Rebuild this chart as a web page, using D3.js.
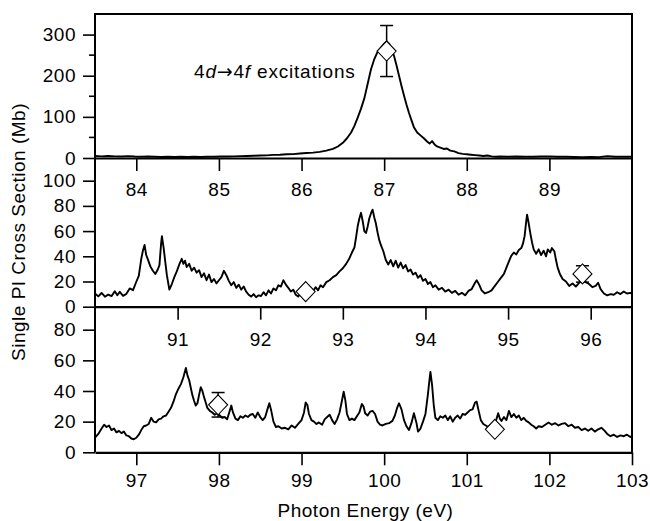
<!DOCTYPE html>
<html>
<head>
<meta charset="utf-8">
<script src="https://cdn.jsdelivr.net/npm/d3@7/dist/d3.min.js"></script>
<style>
  html, body { margin: 0; padding: 0; background: #fff; }
  svg text { font-family: "Liberation Sans", Arial, Helvetica, sans-serif; fill: #000; }
</style>
</head>
<body>
<svg id="board" width="650" height="521"></svg>
<script>
// photon energy (eV), cross section (Mb)
var topSpectrum = [
  [83.50,5],[83.58,4],[83.66,5],[83.74,4],[83.82,3.5],[83.90,4.5],[83.98,3.5],[84.06,3],
  [84.14,3.5],[84.22,3],[84.30,2.5],[84.38,3],[84.46,2.5],[84.54,3],[84.62,2.5],[84.70,3],
  [84.78,2.5],[84.86,3],[84.94,3],[85.02,3.5],[85.10,3.5],[85.18,4],[85.26,4.5],[85.34,5],
  [85.42,5.5],[85.50,6],[85.58,6.5],[85.66,7.5],[85.74,8],[85.82,9],[85.90,9.5],[85.98,11],
  [86.06,12],[86.14,13],[86.22,15],[86.30,18],[86.38,22],[86.44,28],[86.50,37],[86.55,48],
  [86.60,62],[86.64,78],[86.68,98],[86.72,120],[86.76,145],[86.80,180],[86.84,215],[86.88,240],
  [86.92,258],[86.96,268],[87.00,278],[87.03,283],[87.06,278],[87.09,265],[87.12,248],[87.15,225],
  [87.18,200],[87.21,175],[87.24,152],[87.27,130],[87.30,110],[87.33,92],[87.36,75],[87.40,62],
  [87.44,55],[87.48,48],[87.52,40],[87.55,35],[87.58,41],[87.61,33],[87.64,28],[87.68,25],
  [87.72,22],[87.76,23],[87.80,18],[87.85,16],[87.90,12],[87.95,10],[88.00,9],[88.05,8],
  [88.10,7],[88.15,6],[88.20,5],[88.25,6],[88.30,4],[88.35,3],[88.40,3.5],[88.50,3],
  [88.60,3.5],[88.70,3],[88.80,3],[88.90,3.5],[89.00,4],[89.10,3],[89.20,3],[89.30,2.5],
  [89.40,2],[89.50,2.5],[89.60,2],[89.70,4.5],[89.80,3],[89.90,3],[90.00,3]
];

var midSpectrum = [
  [90.00,10.5],[90.04,8.2],[90.08,10.9],[90.12,7.9],[90.16,9.6],[90.20,8.4],[90.24,12.3],[90.27,9.1],
  [90.30,11.8],[90.34,8.6],[90.38,10.2],[90.42,14.5],[90.46,13.1],[90.50,19.8],[90.53,24.5],[90.56,38],
  [90.58,44.5],[90.60,49],[90.62,41],[90.64,37.5],[90.67,32],[90.70,28.5],[90.73,26],[90.76,29.5],
  [90.78,33],[90.80,50],[90.81,56],[90.83,47],[90.85,36],[90.87,25],[90.90,13.5],[90.93,18],
  [90.96,23.5],[90.99,28],[91.02,33.5],[91.05,38],[91.07,34],[91.09,36.5],[91.11,31.5],[91.14,34],
  [91.17,28.5],[91.20,31],[91.23,27],[91.26,29],[91.29,23.5],[91.32,26.5],[91.35,21],[91.38,25.5],
  [91.41,19.5],[91.44,22],[91.47,18.5],[91.50,21],[91.53,23.5],[91.56,28.5],[91.59,25],[91.62,20.5],
  [91.65,17],[91.68,19.5],[91.71,15],[91.74,17.5],[91.77,13.5],[91.80,16],[91.83,12],[91.86,9.5],
  [91.89,8],[91.92,10],[91.95,7.5],[91.98,9],[92.01,8.5],[92.04,11.5],[92.07,9],[92.10,13],
  [92.13,10.5],[92.16,14.5],[92.19,13],[92.22,17],[92.25,16],[92.28,21],[92.31,17.5],[92.34,15],
  [92.37,12],[92.40,13.5],[92.43,9.5],[92.46,8],[92.49,11],[92.52,10],[92.55,12.5],[92.58,11],
  [92.61,13.5],[92.64,12.5],[92.67,15.5],[92.70,13],[92.73,17],[92.76,15.5],[92.80,19.5],[92.84,21],
  [92.88,23.5],[92.92,25],[92.96,28],[93.00,30.5],[93.04,34],[93.08,38.5],[93.11,43],[93.14,47],
  [93.16,55],[93.18,64],[93.20,70],[93.22,74.5],[93.24,68],[93.26,60],[93.28,58.5],[93.30,63.5],
  [93.32,70],[93.34,74],[93.36,77],[93.38,71],[93.40,66],[93.42,59],[93.44,53],[93.46,49],
  [93.49,44],[93.52,37],[93.55,33.5],[93.58,37],[93.61,32],[93.64,36.5],[93.67,31],[93.70,35],
  [93.73,30.5],[93.76,33],[93.79,28],[93.82,29.5],[93.85,25.5],[93.88,27],[93.91,23],[93.94,25],
  [93.97,20.5],[94.00,22],[94.03,18],[94.06,19.5],[94.09,15.5],[94.12,17],[94.16,13.5],[94.20,15],
  [94.24,12],[94.28,13.5],[94.32,11],[94.36,12.5],[94.40,9.5],[94.44,11],[94.48,9],[94.52,12.5],
  [94.56,14],[94.60,19],[94.62,21],[94.65,17.5],[94.68,13],[94.72,10.5],[94.76,11.5],[94.80,13],
  [94.84,16.5],[94.88,20],[94.92,23.5],[94.95,26],[94.98,31],[95.01,36],[95.04,40.5],[95.07,43],
  [95.10,41.5],[95.13,45],[95.16,46.5],[95.18,50],[95.20,56],[95.22,68],[95.23,73],[95.25,66],
  [95.27,58],[95.29,51],[95.31,45.5],[95.34,42],[95.37,45.5],[95.40,41],[95.43,44.5],[95.46,40],
  [95.48,45.5],[95.51,43],[95.53,46.5],[95.56,44],[95.58,37],[95.60,31],[95.63,25.5],[95.66,22],
  [95.70,20],[95.74,16.5],[95.78,18.5],[95.82,16],[95.86,19],[95.90,21.5],[95.94,19.5],[95.98,18],
  [96.02,15.5],[96.06,16.5],[96.09,19],[96.12,14],[96.16,10.5],[96.20,9],[96.24,10],[96.28,9.5],
  [96.32,11.5],[96.36,10],[96.40,12],[96.44,10.5],[96.48,11],[96.50,10]
];

var lowSpectrum = [
  [96.50,9.5],[96.54,12],[96.58,15.5],[96.61,18],[96.64,16.5],[96.67,17.5],[96.70,14.5],[96.73,15.5],
  [96.76,13],[96.79,14],[96.82,12.5],[96.85,13.5],[96.88,11],[96.91,10.5],[96.94,9],[96.97,8.5],
  [97.00,9.5],[97.03,11.5],[97.06,14.5],[97.09,17],[97.12,17.5],[97.15,18.5],[97.18,22.5],[97.21,20],
  [97.24,19.5],[97.27,21.5],[97.30,22],[97.33,23.5],[97.36,24],[97.39,26.5],[97.42,29],[97.45,33],
  [97.48,38],[97.51,41.5],[97.54,44.5],[97.57,49],[97.59,53],[97.60,55],[97.62,50],[97.64,47],
  [97.66,42],[97.68,37],[97.70,33.5],[97.72,30.5],[97.74,32],[97.76,37.5],[97.78,42.5],[97.80,40],
  [97.82,36],[97.84,32.5],[97.86,29],[97.89,27],[97.92,26],[97.95,24.5],[97.98,25.5],[98.01,24],
  [98.04,22.5],[98.07,23],[98.10,21.5],[98.13,27],[98.15,30.5],[98.17,26],[98.20,22],[98.23,21],
  [98.26,23.5],[98.29,22.5],[98.32,24],[98.35,23],[98.38,24.5],[98.41,25],[98.44,22.5],[98.47,26],
  [98.50,23],[98.53,21],[98.56,23],[98.59,28.5],[98.61,32],[98.63,28],[98.66,20],[98.69,16.5],
  [98.72,17],[98.76,15.5],[98.80,16],[98.84,15],[98.88,17.5],[98.92,16],[98.96,18.5],[99.00,21],
  [99.03,26],[99.05,32.5],[99.07,31],[99.09,25],[99.12,21],[99.15,20],[99.18,18.5],[99.21,19.5],
  [99.25,18],[99.28,21.5],[99.31,23],[99.34,24.5],[99.37,21],[99.40,18.5],[99.43,21.5],[99.46,26],
  [99.49,34],[99.51,39.5],[99.53,34],[99.55,25],[99.58,21],[99.61,22],[99.64,21],[99.67,23.5],
  [99.70,26],[99.73,31.5],[99.75,30],[99.77,25.5],[99.80,24],[99.83,26.5],[99.86,27],[99.89,25],
  [99.92,20],[99.95,18],[99.98,17.5],[100.02,18.5],[100.06,19],[100.10,20.5],[100.13,24],[100.16,29.5],
  [100.18,32],[100.21,28],[100.24,21],[100.27,17],[100.30,14.5],[100.33,19],[100.36,25.5],[100.39,19.5],
  [100.41,13.5],[100.44,15.5],[100.47,20],[100.50,25],[100.53,38],[100.55,48],[100.56,52.5],[100.58,44],
  [100.60,31],[100.62,22.5],[100.65,21],[100.68,23.5],[100.71,22.5],[100.74,24],[100.77,21],[100.80,23.5],
  [100.83,20],[100.86,22.5],[100.89,24],[100.92,22],[100.95,25],[100.98,24.5],[101.01,26],[101.04,27.5],
  [101.07,28],[101.10,32.5],[101.12,33],[101.14,28],[101.17,21],[101.20,18.5],[101.23,17.5],[101.26,16.5],
  [101.29,18],[101.32,19],[101.35,20],[101.38,25.5],[101.40,22],[101.42,20.5],[101.45,23],[101.48,21],
  [101.51,27],[101.54,23],[101.57,25],[101.60,22.5],[101.63,24],[101.66,21],[101.69,22.5],[101.72,20.5],
  [101.75,19.5],[101.78,18],[101.81,17],[101.84,15.5],[101.87,17],[101.91,16.5],[101.95,18],[101.99,19.5],
  [102.03,18],[102.07,19],[102.11,17.5],[102.15,18.5],[102.19,19],[102.23,17],[102.27,18],[102.31,16],
  [102.35,16.5],[102.39,14.5],[102.43,15.5],[102.47,14],[102.51,15.5],[102.55,13.5],[102.59,15],[102.63,16],
  [102.67,14],[102.70,12],[102.74,10.5],[102.78,11.5],[102.82,10],[102.86,11],[102.90,10.5],[102.94,11.5],
  [102.98,10],[103.00,10.5]
];

// absolute cross sections (diamonds) with error bars
var topPoints = [{ e: 87.03, v: 260, err: 62 }];
var midPoints = [{ e: 92.55, v: 12, err: 0 }, { e: 95.9, v: 26, err: 6.5 }];
var lowPoints = [{ e: 97.99, v: 31, err: 8 }, { e: 101.34, v: 15, err: 0 }];

var topDomainX = [83.5, 90], midDomainX = [90, 96.5], lowDomainX = [96.5, 103];
var topDomainY = [0, 350], midDomainY = [0, 118], lowDomainY = [0, 95];
var topTicksX = [84, 85, 86, 87, 88, 89];
var midTicksX = [91, 92, 93, 94, 95, 96];
var lowTicksX = [97, 98, 99, 100, 101, 102, 103];
var topTicksY = [0, 100, 200, 300], topMinorY = [50, 150, 250];
var midTicksY = [0, 20, 40, 60, 80, 100];
var lowTicksY = [0, 20, 40, 60, 80];

var left = 95, right = 632;
var board = d3.select('#board');

var panels = [
  { spectrum: topSpectrum, points: topPoints, dx: topDomainX, dy: topDomainY, ticksX: topTicksX,
    ticksY: topTicksY, minorY: topMinorY, top: 14, bottom: 158, labelPad: 12 },
  { spectrum: midSpectrum, points: midPoints, dx: midDomainX, dy: midDomainY, ticksX: midTicksX,
    ticksY: midTicksY, minorY: [], top: 158, bottom: 306.7, labelPad: 13 },
  { spectrum: lowSpectrum, points: lowPoints, dx: lowDomainX, dy: lowDomainY, ticksX: lowTicksX,
    ticksY: lowTicksY, minorY: [], top: 306.7, bottom: 452.3, labelPad: 8 }
];

panels.forEach(drawPanel);

// frame
board.append('line').attr('x1', left).attr('x2', left).attr('y1', 14).attr('y2', 452.3)
  .attr('stroke', '#000').attr('stroke-width', 2);
board.append('line').attr('x1', right).attr('x2', right).attr('y1', 14).attr('y2', 452.3)
  .attr('stroke', '#000').attr('stroke-width', 2);
board.append('line').attr('x1', left - 1).attr('x2', right + 1).attr('y1', 14).attr('y2', 14)
  .attr('stroke', '#000').attr('stroke-width', 2);

board.append('text')
  .attr('x', (left + right) / 2 + 2).attr('y', 517)
  .attr('text-anchor', 'middle')
  .style('font-size', '19px').style('letter-spacing', '0.5px')
  .text('Photon Energy (eV)');

board.append('text')
  .attr('transform', 'translate(25,' + 232 + ') rotate(-90)')
  .attr('text-anchor', 'middle')
  .style('font-size', '19px').style('letter-spacing', '0.5px')
  .text('Single PI Cross Section (Mb)');

var note = board.append('text')
  .attr('x', 194).attr('y', 78)
  .style('font-size', '19px').style('letter-spacing', '0.8px');
note.append('tspan').text('4');
note.append('tspan').style('font-style', 'italic').text('d');
note.append('tspan').style('font-family', '"DejaVu Sans", sans-serif').text('\u2192');
note.append('tspan').text('4');
note.append('tspan').style('font-style', 'italic').text('f');
note.append('tspan').text(' excitations');

function drawPanel(p) {
  var x = d3.scaleLinear().domain(p.dx).range([left, right]);
  var y = d3.scaleLinear().domain(p.dy).range([p.bottom, p.top]);
  var g = board.append('g');

  var line = d3.line()
    .x(function(d) { return x(d[0]); })
    .y(function(d) { return y(d[1]); });
  g.append('path')
    .datum(p.spectrum)
    .attr('d', line)
    .attr('fill', 'none')
    .attr('stroke', '#000')
    .attr('stroke-width', 1.9)
    .attr('stroke-linejoin', 'round');

  var marks = g.selectAll('.mark').data(p.points).enter().append('g').classed('mark', true);
  marks.filter(function(d) { return d.err > 0; }).each(function(d) {
    var m = d3.select(this), cx = x(d.e);
    m.append('line').attr('x1', cx).attr('x2', cx)
      .attr('y1', y(d.v + d.err)).attr('y2', y(d.v - d.err));
    m.append('line').attr('x1', cx - 6.5).attr('x2', cx + 6.5)
      .attr('y1', y(d.v + d.err)).attr('y2', y(d.v + d.err));
    m.append('line').attr('x1', cx - 6.5).attr('x2', cx + 6.5)
      .attr('y1', y(d.v - d.err)).attr('y2', y(d.v - d.err));
  });
  marks.selectAll('line').attr('stroke', '#000').attr('stroke-width', 1.5);
  marks.append('path')
    .attr('d', function(d) {
      var cx = x(d.e), cy = y(d.v);
      return 'M' + cx + ',' + (cy - 10) + 'L' + (cx + 9.5) + ',' + cy +
        'L' + cx + ',' + (cy + 10) + 'L' + (cx - 9.5) + ',' + cy + 'Z';
    })
    .attr('fill', '#fff')
    .attr('stroke', '#000')
    .attr('stroke-width', 1.1);

  var ax = g.append('g')
    .attr('transform', 'translate(0,' + p.bottom + ')')
    .call(d3.axisBottom(x).tickValues(p.ticksX).tickSize(13).tickSizeOuter(0)
      .tickPadding(p.labelPad).tickFormat(d3.format('d')));
  ax.select('.domain').attr('stroke-width', 2.2);
  ax.selectAll('.tick line').attr('stroke-width', 1.6);
  ax.selectAll('text').style('font-size', '19px').style('letter-spacing', '0.5px')
    .style('font-family', null).attr('fill', '#000');

  var ay = g.append('g')
    .attr('transform', 'translate(' + left + ',0)')
    .call(d3.axisLeft(y).tickValues(p.ticksY).tickSize(12).tickSizeOuter(0).tickPadding(7));
  ay.select('.domain').remove();
  ay.selectAll('.tick line').attr('stroke-width', 1.6);
  ay.selectAll('text').style('font-size', '19px').style('letter-spacing', '0.5px')
    .style('font-family', null).attr('fill', '#000');

  g.selectAll('.minor').data(p.minorY).enter().append('line')
    .attr('x1', left - 6).attr('x2', left)
    .attr('y1', function(d) { return y(d); }).attr('y2', function(d) { return y(d); })
    .attr('stroke', '#000').attr('stroke-width', 1.6);
}
</script>
</body>
</html>
